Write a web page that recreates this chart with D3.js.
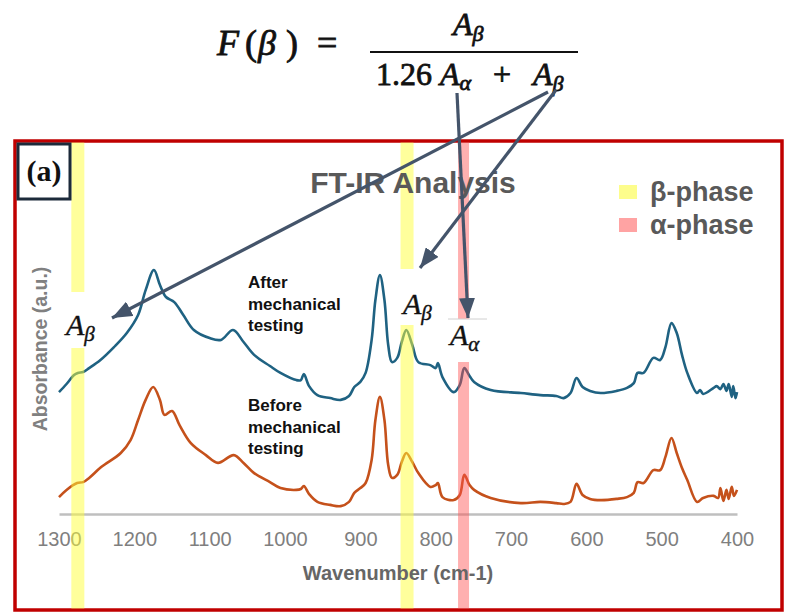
<!DOCTYPE html>
<html><head><meta charset="utf-8">
<script src="https://cdn.jsdelivr.net/npm/d3@7"></script>
<style>
html,body{margin:0;padding:0;background:#fff;}
svg{display:block;}
</style></head>
<body>
<svg id="chart" width="787" height="614"></svg>
<script>
// ---------- DATA ----------
const afterWn  = [1300,1290,1280,1275,1268,1260,1245,1227,1210,1195,1185,1174,1166,1158,1147,1135,1121,1100,1085,1069,1055,1041,1020,1006,985,979,975,968,957,940,926,915,908,900,893,885,880,874,868,863,858,851,845,839,831,823,807,800,797,791,776,768,762,755,749,727,687,661,640,630,621,613,605,595,581,560,546,537,532,524,511,502,495,487,480,473,466,453,449,445,431,427,422,418,414,411,407,405,402,400];
const afterAbs = [41.3,44,47,47.7,48,49.3,52,56.3,61,67,75.3,82,77,73,71.3,67,62,59.3,58.7,62,58,53.7,50,47.7,45.3,45.3,47.3,43.3,40.3,39.3,38.7,40,43,44.7,47.7,58.7,72,80.3,72,57,51.3,52.7,58,62,57,51.3,50.3,49.3,51,46.3,41.3,43.7,49.3,46.7,44.7,42,41,40.3,40,39.3,41,46,43,41.7,41,41.7,42.7,44.3,47.7,47.7,52.7,52,56.3,64.3,61,53.7,47.7,41,42,40.7,42.7,43.3,42.3,44,41.7,44,39.7,43.3,39.3,41.3];

const beforeWn  = [1300,1290,1276,1268,1260,1244,1218,1205,1195,1185,1175,1166,1160,1150,1140,1125,1105,1089,1068,1055,1041,1020,1006,985,979,975,968,957,940,926,915,908,900,893,885,880,874,868,863,858,851,845,839,831,823,807,800,797,791,776,768,762,755,749,727,687,661,640,630,621,613,605,595,581,560,546,537,532,524,511,502,495,487,480,473,466,453,445,431,425,422,418,414,411,407,404,400];
const beforeAbs = [6.3,8.7,11,11.3,12.7,16.3,21,25.3,32,38.7,43,38.7,33.7,35,30.3,24.3,20.3,17.7,20.3,17.7,14.3,11.3,9.3,8.7,9,10,7.3,4.7,3.7,3.3,4.7,7.7,9.3,11,18.7,32,39.7,32,17,12.7,13.7,18,21,18,14.3,9.7,10.3,11,6.3,5.3,7,13.7,10.3,8.7,6,4.3,4.7,4.3,4,4.7,10.7,7,5.7,5.3,5.7,6.3,7.7,11.3,11,15.3,15.3,19.7,26,21,16,12,4.7,6,6.7,6,9.3,5,8.7,5.7,9.7,6.7,8.7];

const xTicks = [1300,1200,1100,1000,900,800,700,600,500,400];
const betaBands = [1275, 838];
const alphaBands = [763];
const legendItems = ["β-phase", "α-phase"];

// ---------- SETUP ----------
const svg = d3.select("#chart");
const x = d3.scaleLinear().domain([1300, 400]).range([59, 737]);
const y = d3.scaleLinear().domain([0, 100]).range([516, 216]);

const frameTop = 141, frameBottom = 610;

// frame
svg.append("rect").attr("x", 15).attr("y", frameTop).attr("width", 767).attr("height", frameBottom - frameTop)
  .attr("fill", "#fff").attr("stroke", "#c00000").attr("stroke-width", 3.5);

// axis
const axisG = svg.append("g").attr("transform", "translate(0,514)")
  .call(d3.axisBottom(x).tickValues(xTicks).tickSize(0).tickPadding(18).tickFormat(d3.format("d")));
axisG.select(".domain").attr("stroke", "#bfbfbf").attr("stroke-width", 2.5);
axisG.selectAll("text").attr("fill", "#7f7f7f")
  .style("font-family", "'Liberation Sans Narrow','Liberation Sans',Arial,sans-serif").style("font-size", "20px");

// curves
const line = d3.line().x(d => x(d[0])).y(d => y(d[1])).curve(d3.curveCatmullRom.alpha(0.5));
const afterData = afterWn.map((w, i) => [w, afterAbs[i]]);
const beforeData = beforeWn.map((w, i) => [w, beforeAbs[i]]);
svg.append("path").datum(afterData).attr("d", line).attr("fill", "none")
  .attr("stroke", "#1f6282").attr("stroke-width", 2.6).attr("stroke-linejoin", "round");
svg.append("path").datum(beforeData).attr("d", line).attr("fill", "none")
  .attr("stroke", "#c5511b").attr("stroke-width", 2.6).attr("stroke-linejoin", "round");

// bands
const bandW = 13;
betaBands.forEach(b => {
  svg.append("rect").attr("x", x(b) - bandW / 2).attr("y", frameTop + 1.5).attr("width", bandW)
    .attr("height", frameBottom - frameTop - 3).attr("fill", "#ffff3a").attr("opacity", 0.5);
});
alphaBands.forEach(b => {
  svg.append("rect").attr("x", x(b) - 5.5).attr("y", frameTop + 1.5).attr("width", 11)
    .attr("height", frameBottom - frameTop - 3).attr("fill", "#ff5050").attr("opacity", 0.45);
});

// white label boxes
const boxes = [
  {cx: x(betaBands[0]), y0: 292, y1: 348, w: 48},
  {cx: x(betaBands[1]) + 14, y0: 269, y1: 325, w: 52},
  {cx: x(alphaBands[0]), y0: 319, y1: 362, w: 40}
];
boxes.forEach(b => {
  svg.append("rect").attr("x", b.cx - b.w / 2).attr("y", b.y0).attr("width", b.w).attr("height", b.y1 - b.y0).attr("fill", "#fff");
});
svg.append("line").attr("x1", 448).attr("x2", 487).attr("y1", 319).attr("y2", 319).attr("stroke", "#d0d0d0").attr("stroke-width", 1);

// A labels
function aLabel(xp, yp, sub) {
  const t = svg.append("text").attr("x", xp).attr("y", yp)
    .style("font-family", "'Liberation Serif','DejaVu Serif',serif").style("font-size", "30px")
    .attr("fill", "#111").attr("stroke", "#111").attr("stroke-width", 0.4);
  t.append("tspan").style("font-style", "italic").text("A");
  t.append("tspan").style("font-style", "italic").style("font-size", "21px").attr("dy", 6).text(sub);
}
aLabel(66, 335, "β");
aLabel(403, 314, "β");
aLabel(450, 345, "α");

// series labels
function seriesLabel(lines, xp, y0) {
  const t = svg.append("text").attr("x", xp).attr("y", y0)
    .style("font-family", "'Liberation Sans',Arial,sans-serif").style("font-size", "17px").style("font-weight", "bold").attr("fill", "#111");
  lines.forEach((l, i) => t.append("tspan").attr("x", xp).attr("dy", i === 0 ? 0 : 21.5).text(l));
}
seriesLabel(["After", "mechanical", "testing"], 248, 288);
seriesLabel(["Before", "mechanical", "testing"], 248, 411);

// title
svg.append("text").attr("x", 413).attr("y", 193).attr("text-anchor", "middle")
  .style("font-family", "'Liberation Sans',Arial,sans-serif").style("font-size", "30px").style("font-weight", "bold")
  .attr("fill", "#595959").text("FT-IR Analysis");

// legend
const legColors = ["#fdfd8c", "#ffa3a3"];
legendItems.forEach((name, i) => {
  const ly = 192 + i * 33;
  svg.append("rect").attr("x", 619).attr("y", ly - 7).attr("width", 18).attr("height", 14).attr("fill", legColors[i]);
  svg.append("text").attr("x", 650).attr("y", ly + 9)
    .style("font-family", "'Liberation Sans',Arial,sans-serif").style("font-size", "27px").style("font-weight", "bold")
    .attr("fill", "#595959").text(name);
});

// y label
svg.append("text").attr("transform", "translate(47,349) rotate(-90)").attr("text-anchor", "middle")
  .style("font-family", "'Liberation Sans',Arial,sans-serif").style("font-size", "19.5px").style("font-weight", "bold")
  .attr("fill", "#808080").text("Absorbance (a.u.)");

// x label
svg.append("text").attr("x", 398).attr("y", 580).attr("text-anchor", "middle")
  .style("font-family", "'Liberation Sans Narrow','Liberation Sans',Arial,sans-serif").style("font-size", "20px").style("font-weight", "bold")
  .attr("fill", "#666").text("Wavenumber (cm-1)");

// (a) box
svg.append("rect").attr("x", 18).attr("y", 144).attr("width", 52).attr("height", 55)
  .attr("fill", "#fff").attr("stroke", "#1c2a3a").attr("stroke-width", 3);
svg.append("text").attr("x", 44).attr("y", 181).attr("text-anchor", "middle")
  .style("font-family", "'Liberation Serif',serif").style("font-size", "30px").style("font-weight", "bold")
  .attr("fill", "#111").text("(a)");

// formula
const fm = svg.append("g").style("font-family", "'Liberation Serif','DejaVu Serif',serif")
  .attr("fill", "#111").attr("stroke", "#111").attr("stroke-width", 0.8);
const f1 = fm.append("text").attr("y", 55).style("font-size", "36px");
f1.append("tspan").attr("x", 217).style("font-style", "italic").text("F");
f1.append("tspan").attr("x", 245).text("(");
f1.append("tspan").attr("x", 258).style("font-style", "italic").text("β");
f1.append("tspan").attr("x", 286).text(")");
fm.append("text").attr("x", 317).attr("y", 55).style("font-size", "36px").text("=");
fm.append("line").attr("x1", 370).attr("x2", 578).attr("y1", 52).attr("y2", 52).attr("stroke", "#111").attr("stroke-width", 2.2);
const num = fm.append("text").attr("x", 453).attr("y", 35).style("font-size", "32px");
num.append("tspan").style("font-style", "italic").text("A");
num.append("tspan").style("font-style", "italic").style("font-size", "22px").attr("dy", 6).text("β");
const den = fm.append("text").attr("x", 376).attr("y", 85).style("font-size", "32px");
den.append("tspan").text("1.26");
den.append("tspan").attr("x", 440).style("font-style", "italic").text("A");
den.append("tspan").style("font-style", "italic").style("font-size", "22px").attr("dy", 5).text("α");
den.append("tspan").attr("x", 493).attr("dy", -5).text("+");
den.append("tspan").attr("x", 533).style("font-style", "italic").text("A");
den.append("tspan").style("font-style", "italic").style("font-size", "22px").attr("dy", 6).text("β");

// arrows
const defs = svg.append("defs");
defs.append("marker").attr("id", "ah").attr("viewBox", "0 0 20 16").attr("refX", 20).attr("refY", 8)
  .attr("markerWidth", 20).attr("markerHeight", 16).attr("markerUnits", "userSpaceOnUse").attr("orient", "auto")
  .append("path").attr("d", "M0,0 L20,8 L0,16 Z").attr("fill", "#44546a");
const arrows = [
  [548, 92, 112, 318],
  [556, 90, 420, 268],
  [457, 93, 468, 318]
];
arrows.forEach(a => {
  svg.append("line").attr("x1", a[0]).attr("y1", a[1]).attr("x2", a[2]).attr("y2", a[3])
    .attr("stroke", "#44546a").attr("stroke-width", 3.2).attr("marker-end", "url(#ah)");
});
</script>
</body></html>
